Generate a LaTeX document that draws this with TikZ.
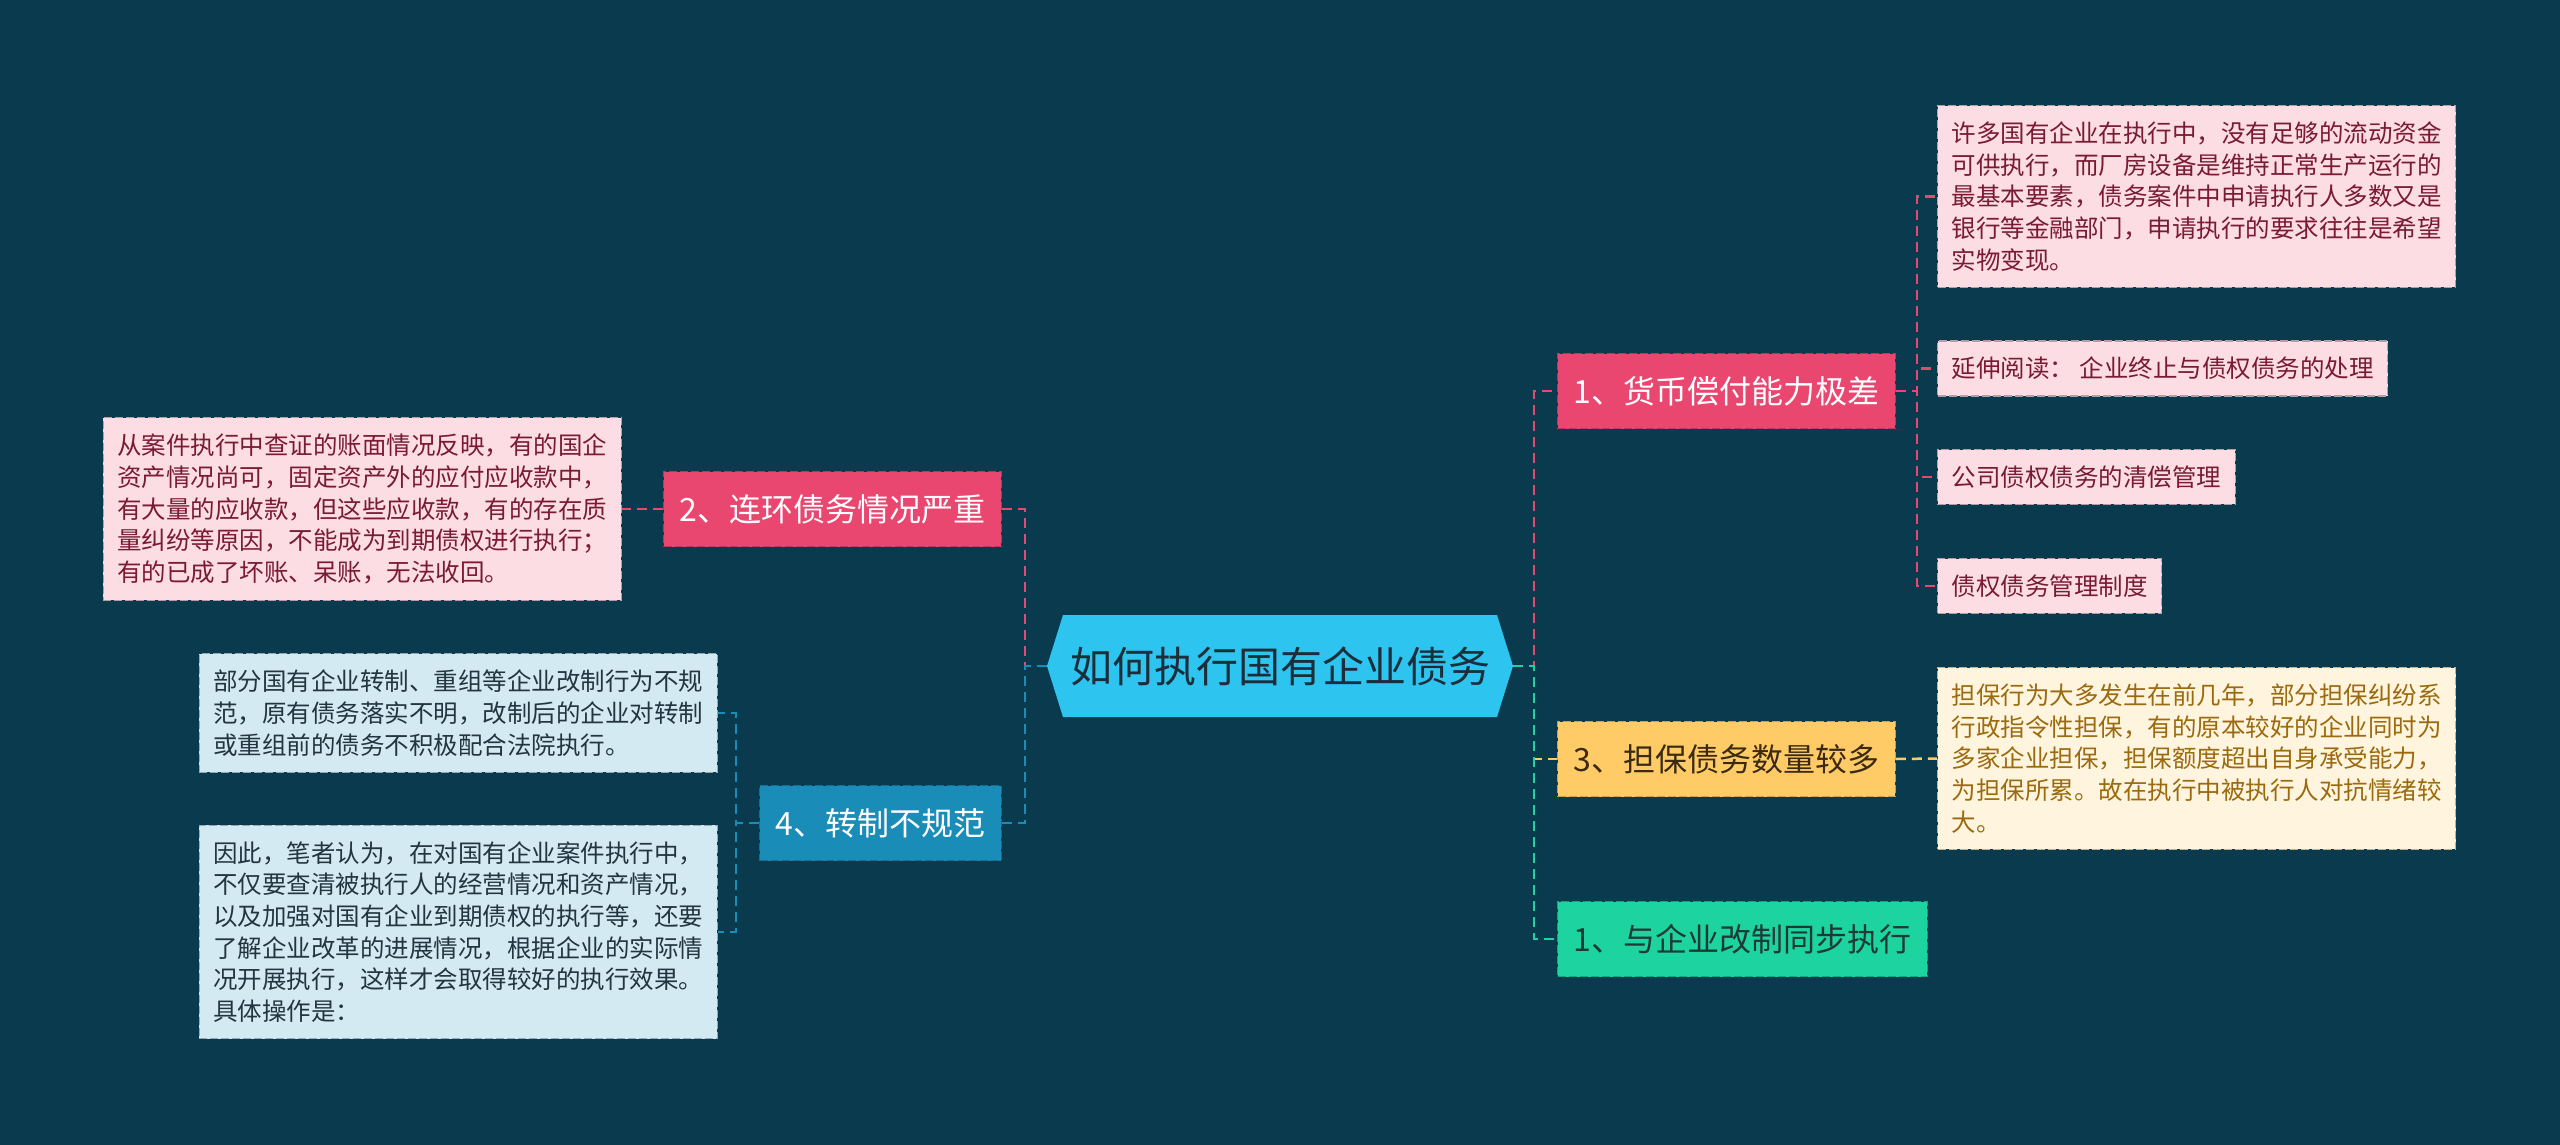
\documentclass[tikz,border=0pt]{standalone}
\usepackage{fontspec}
\setmainfont{Noto Sans CJK SC}
\usepackage{tikz}
\definecolor{bgcol}{HTML}{0A3A4D}
\definecolor{rootfill}{HTML}{2EC4F0}
\definecolor{roottext}{HTML}{1C2E3A}
\definecolor{redfill}{HTML}{EA4770}
\definecolor{redline}{HTML}{B8385A}
\definecolor{yelfill}{HTML}{FFCB66}
\definecolor{yelline}{HTML}{C99E4E}
\definecolor{yeltext}{HTML}{3A2A12}
\definecolor{grnfill}{HTML}{1DD4A1}
\definecolor{grnline}{HTML}{17A27C}
\definecolor{grntext}{HTML}{1E3A36}
\definecolor{bluefill}{HTML}{1A8CB8}
\definecolor{blueline}{HTML}{156F92}
\definecolor{pinkleaf}{HTML}{FCDDE4}
\definecolor{pinkedge}{HTML}{B89CA3}
\definecolor{pinktext}{HTML}{7A1A33}
\definecolor{cyanleaf}{HTML}{D3EAF2}
\definecolor{cyanedge}{HTML}{93AAB2}
\definecolor{cyantext}{HTML}{233540}
\definecolor{creamleaf}{HTML}{FFF5DF}
\definecolor{creamedge}{HTML}{BFB295}
\definecolor{creamtext}{HTML}{9C6A0E}

\begin{document}
\begin{tikzpicture}[x=1pt,y=-1pt,
    topic/.style={draw,dash pattern=on 8pt off 3pt,line width=1.2pt,inner xsep=16pt,minimum height=75pt,font=\fontsize{32}{38}\selectfont},
    leaf/.style={draw,dash pattern=on 8pt off 3pt,line width=1.2pt,inner xsep=14pt,inner ysep=16pt,align=left,font=\fontsize{24.5}{31.7}\selectfont},
    conn/.style={line width=2.5pt,dash pattern=on 10pt off 6pt}]
      \fill [bgcol] (0,0) rectangle (2560,1145);
      \fill [rootfill] (1047,666) -- (1063,615) -- (1497,615) -- (1513,666) -- (1497,717) -- (1063,717) -- cycle;
      \node [text=roottext,font=\fontsize{42}{50}\selectfont,minimum width=466,minimum height=102] (root) at (1280,666) {如何执行国有企业债务};

      \node [topic,fill=redfill,draw=redline,text=white,anchor=west] (huobi) at (1557,391) {1、货币偿付能力极差};
      \node [topic,fill=yelfill,draw=yelline,text=yeltext,anchor=west] (danbao) at (1557,759) {3、担保债务数量较多};
      \node [topic,fill=grnfill,draw=grnline,text=grntext,anchor=west] (tongbu) at (1557,939) {1、与企业改制同步执行};
      \node [topic,fill=redfill,draw=redline,text=white,anchor=east] (lianhuan) at (1002,509) {2、连环债务情况严重};
      \node [topic,fill=bluefill,draw=blueline,text=white,anchor=east] (zhuanzhi) at (1002,823) {4、转制不规范};

      \node [leaf,fill=pinkleaf,draw=pinkedge,text=pinktext,anchor=west] (xuduo) at (1937,196.5) {许多国有企业在执行中，没有足够的流动资金\\可供执行，而厂房设备是维持正常生产运行的\\最基本要素，债务案件中申请执行人多数又是\\银行等金融部门，申请执行的要求往往是希望\\实物变现。};
      \node [leaf,fill=pinkleaf,draw=pinkedge,text=pinktext,anchor=west] (yanshen) at (1937,368.5) {延伸阅读： 企业终止与债权债务的处理};
      \node [leaf,fill=pinkleaf,draw=pinkedge,text=pinktext,anchor=west] (qingchang) at (1937,477) {公司债权债务的清偿管理};
      \node [leaf,fill=pinkleaf,draw=pinkedge,text=pinktext,anchor=west] (zhidu) at (1937,586) {债权债务管理制度};
      \node [leaf,fill=creamleaf,draw=creamedge,text=creamtext,anchor=west] (danbaotext) at (1937,758.5) {担保行为大多发生在前几年，部分担保纠纷系\\行政指令性担保，有的原本较好的企业同时为\\多家企业担保，担保额度超出自身承受能力，\\为担保所累。故在执行中被执行人对抗情绪较\\大。};
      \node [leaf,fill=pinkleaf,draw=pinkedge,text=pinktext,anchor=east] (zhangmian) at (622,509) {从案件执行中查证的账面情况反映，有的国企\\资产情况尚可，固定资产外的应付应收款中，\\有大量的应收款，但这些应收款，有的存在质\\量纠纷等原因，不能成为到期债权进行执行；\\有的已成了坏账、呆账，无法收回。};
      \node [leaf,fill=cyanleaf,draw=cyanedge,text=cyantext,anchor=east] (gaizhi) at (718,713) {部分国有企业转制、重组等企业改制行为不规\\范，原有债务落实不明，改制后的企业对转制\\或重组前的债务不积极配合法院执行。};
      \node [leaf,fill=cyanleaf,draw=cyanedge,text=cyantext,anchor=east] (bizhe) at (718,932) {因此，笔者认为，在对国有企业案件执行中，\\不仅要查清被执行人的经营情况和资产情况，\\以及加强对国有企业到期债权的执行等，还要\\了解企业改革的进展情况，根据企业的实际情\\况开展执行，这样才会取得较好的执行效果。\\具体操作是：};

      \draw [conn,redfill] (root.east) -- ++(21,0) |- (huobi.west);
      \draw [conn,yelfill] (root.east) -- ++(21,0) |- (danbao.west);
      \draw [conn,grnfill] (root.east) -- ++(21,0) |- (tongbu.west);
      \draw [conn,redfill] (root.west) -- ++(-22,0) |- (lianhuan.east);
      \draw [conn,bluefill] (root.west) -- ++(-22,0) |- (zhuanzhi.east);
      \foreach \leafname in {xuduo,yanshen,qingchang,zhidu}
        \draw [conn,redfill] (huobi.east) -- ++(21,0) |- (\leafname.west);
      \draw [conn,yelfill] (danbao.east) -- (danbaotext.west);
      \draw [conn,redfill] (lianhuan.west) -- (zhangmian.east);
      \draw [conn,bluefill] (zhuanzhi.west) -- ++(-23,0) |- (gaizhi.east);
      \draw [conn,bluefill] (zhuanzhi.west) -- ++(-23,0) |- (bizhe.east);
    \end{tikzpicture}
\end{document}
